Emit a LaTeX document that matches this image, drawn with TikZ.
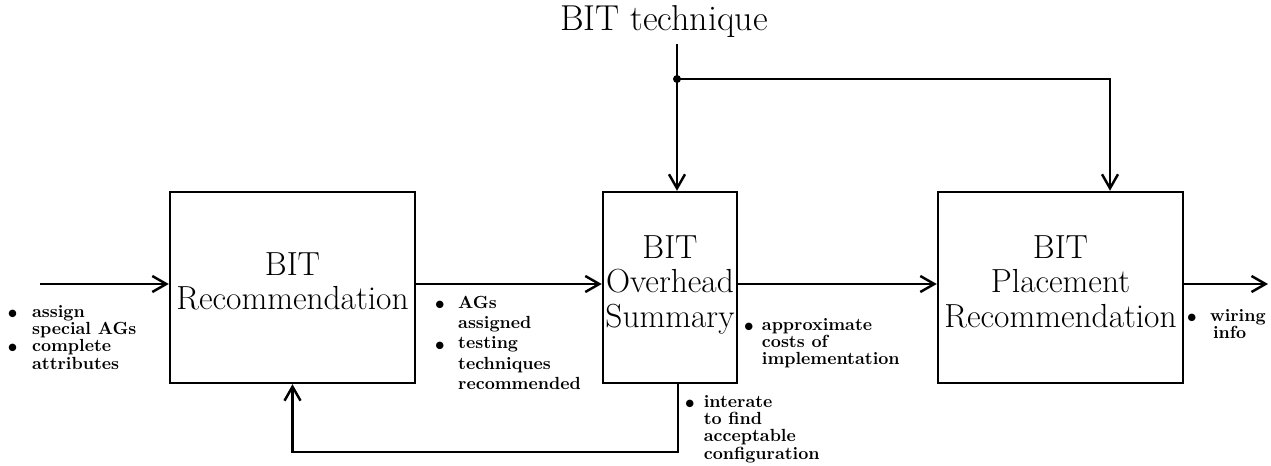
\documentclass[tikz,border=0pt]{standalone}
\usepackage{tikz}
\usetikzlibrary{arrows.meta, positioning}
\newcommand{\bul}{\makebox[0.5em][c]{\raisebox{-0.12em}{\scalebox{1.4}{\textbullet}}}}
\newcommand{\lift}{\rule[-0.25cm]{0pt}{0pt}}

\begin{document}
\begin{tikzpicture}[
        block/.style={rectangle, draw, line width=1.4pt, minimum width=4.9cm, minimum height=3.82cm, align=center, inner sep=0pt, font=\fontsize{19}{19.6}\selectfont},
        note/.style={anchor=north west, inner sep=0pt, align=left, font=\fontsize{10}{9.5}\selectfont\bfseries},
        line/.style={draw, line width=1.4pt, -{Straight Barb[length=2.8mm,width=3.2mm]}}]
        \useasboundingbox (0,0) rectangle (25.42,9.32);

        % the three stages
        \node [block] (rec) at (5.85,3.57) {BIT\\Recommendation\lift};
        \node [block, minimum width=2.68cm] (ovh) at (13.4,3.57) {BIT\\Overhead\\Summary\lift};
        \node [block] (plc) at (21.21,3.57) {BIT\\Placement\\Recommendation\lift};

        \node [font=\fontsize{20.5}{22}\selectfont] (tech) at (13.28,8.88) {BIT technique};
        \coordinate (split) at (13.54,7.74);
        \coordinate (row) at (0.8,3.64);
        \coordinate (out) at (25.36,3.64);

        % main flow
        \path [line] (row) -- (row -| rec.west);
        \path [line] (row -| rec.east) -- (row -| ovh.west);
        \path [line] (row -| ovh.east) -- (row -| plc.west);
        \path [line] (row -| plc.east) -- (out);

        % technique input
        \path [line] (tech.south -| split) -- (split |- ovh.north);
        \path [line] (split) -| ([xshift=0.99cm]plc.north);
        \fill (split) circle (0.08);

        % feedback loop
        \path [line] ([xshift=0.16cm]ovh.south) -- ++(0,-1.36) -| (rec.south);

        % notes
        \node [note] (inlbl) at (0.16,3.22) {\begin{tabular}{@{}l@{\hspace{0.85em}}l@{}}\bul & assign\\ & special AGs\\ \bul & complete\\ & attributes\end{tabular}};
        \node [note, font=\fontsize{10}{11.5}\selectfont\bfseries] (aglbl) at (8.7,3.44) {\begin{tabular}{@{}l@{\hspace{0.8em}}l@{}}\bul & AGs\\ & assigned\\ \bul & testing\\ & techniques\\ & recommended\end{tabular}};
        \node [note] (costlbl) at (14.88,2.96) {\begin{tabular}{@{}l@{\hspace{0.5em}}l@{}}\bul & approximate\\ & costs of\\ & implementation\end{tabular}};
        \node [note] (looplbl) at (13.7,1.42) {\begin{tabular}{@{}l@{\hspace{0.55em}}l@{}}\bul & interate\\ & to find\\ & acceptable\\ & configuration\end{tabular}};
        \node [note] (wirelbl) at (23.74,3.14) {\begin{tabular}{@{}l@{\hspace{0.8em}}l@{}}\bul & wiring\\ & \,info\end{tabular}};
\end{tikzpicture}
\end{document}
